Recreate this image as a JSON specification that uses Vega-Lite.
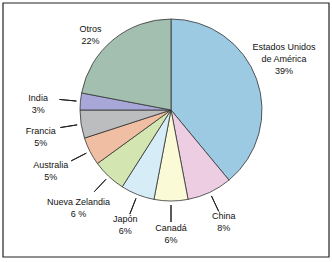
{
  "$schema": "https://vega.github.io/schema/vega-lite/v6.json",
  "width": 326,
  "height": 254,
  "padding": {"left": 3, "top": 3, "right": 3, "bottom": 5},
  "autosize": {"type": "none"},
  "background": "#ffffff",
  "datasets": {
    "paises": [
      {"n": 1, "pais": "Estados Unidos de América", "pct": 39, "etiqueta": "Estados Unidos\nde América\n39%"},
      {"n": 2, "pais": "China", "pct": 8, "etiqueta": "China\n8%"},
      {"n": 3, "pais": "Canadá", "pct": 6, "etiqueta": "Canadá\n6%"},
      {"n": 4, "pais": "Japón", "pct": 6, "etiqueta": "Japón\n6%"},
      {"n": 5, "pais": "Nueva Zelandia", "pct": 6, "etiqueta": "Nueva Zelandia\n6 %"},
      {"n": 6, "pais": "Australia", "pct": 5, "etiqueta": "Australia\n5%"},
      {"n": 7, "pais": "Francia", "pct": 5, "etiqueta": "Francia\n5%"},
      {"n": 8, "pais": "India", "pct": 3, "etiqueta": "India\n3%"},
      {"n": 9, "pais": "Otros", "pct": 22, "etiqueta": "Otros\n22%"}
    ],
    "marco": [{"m": 1}]
  },
  "layer": [
    {
      "data": {"name": "marco"},
      "mark": {"type": "rect", "fill": null, "stroke": "#222222", "strokeWidth": 1.2},
      "encoding": {}
    },
    {
      "data": {"name": "paises"},
      "mark": {"type": "arc", "outerRadius": 91, "x": 168, "y": 107, "stroke": "#333333", "strokeWidth": 0.8},
      "encoding": {
        "theta": {"field": "pct", "type": "quantitative", "stack": true},
        "order": {"field": "n", "type": "quantitative"},
        "color": {
          "field": "pais",
          "type": "nominal",
          "legend": null,
          "scale": {
            "domain": ["Estados Unidos de América", "China", "Canadá", "Japón", "Nueva Zelandia", "Australia", "Francia", "India", "Otros"],
            "range": ["#9ccae2", "#edcde2", "#fafad6", "#d6ecf6", "#d3e6b1", "#f0bfa3", "#bcbdbf", "#a8a8d8", "#a3bfb0"]
          }
        }
      }
    },
    {
      "data": {"name": "paises"},
      "mark": {"type": "arc", "radius": 112, "radius2": 95, "padAngle": 3, "x": 168, "y": 107, "fill": null, "stroke": "#222222", "strokeWidth": 1},
      "encoding": {
        "theta": {"field": "pct", "type": "quantitative", "stack": true},
        "order": {"field": "n", "type": "quantitative"},
        "strokeOpacity": {
          "condition": {"test": "datum.pais === 'Otros' || datum.pais === 'Estados Unidos de América'", "value": 0},
          "value": 1
        }
      }
    },
    {
      "data": {"name": "paises"},
      "mark": {"type": "text", "radius": 124, "thetaOffset": -0.08, "x": 168, "y": 107, "dy": -12, "font": "Liberation Sans", "fontSize": 9, "lineBreak": "\n", "lineHeight": 12, "align": "center", "baseline": "middle", "fill": "#111111"},
      "encoding": {
        "theta": {"field": "pct", "type": "quantitative", "stack": true},
        "order": {"field": "n", "type": "quantitative"},
        "text": {"field": "etiqueta", "type": "nominal"},
        "opacity": {"condition": {"test": "datum.pais === 'Estados Unidos de América'", "value": 1}, "value": 0}
      }
    },
    {
      "data": {"name": "paises"},
      "mark": {"type": "text", "radius": 124, "thetaOffset": 0, "x": 168, "y": 107, "dy": -6, "font": "Liberation Sans", "fontSize": 9, "lineBreak": "\n", "lineHeight": 12, "align": "center", "baseline": "middle", "fill": "#111111"},
      "encoding": {
        "theta": {"field": "pct", "type": "quantitative", "stack": true},
        "order": {"field": "n", "type": "quantitative"},
        "text": {"field": "etiqueta", "type": "nominal"},
        "opacity": {"condition": {"test": "datum.pais === 'China' || datum.pais === 'Canadá' || datum.pais === 'Japón'", "value": 1}, "value": 0}
      }
    },
    {
      "data": {"name": "paises"},
      "mark": {"type": "text", "radius": 135, "thetaOffset": 0, "x": 168, "y": 107, "dy": -6, "font": "Liberation Sans", "fontSize": 9, "lineBreak": "\n", "lineHeight": 12, "align": "center", "baseline": "middle", "fill": "#111111"},
      "encoding": {
        "theta": {"field": "pct", "type": "quantitative", "stack": true},
        "order": {"field": "n", "type": "quantitative"},
        "text": {"field": "etiqueta", "type": "nominal"},
        "opacity": {"condition": {"test": "datum.pais === 'Nueva Zelandia' || datum.pais === 'Australia'", "value": 1}, "value": 0}
      }
    },
    {
      "data": {"name": "paises"},
      "mark": {"type": "text", "radius": 133, "thetaOffset": -0.05, "x": 168, "y": 107, "dy": -6, "font": "Liberation Sans", "fontSize": 9, "lineBreak": "\n", "lineHeight": 12, "align": "center", "baseline": "middle", "fill": "#111111"},
      "encoding": {
        "theta": {"field": "pct", "type": "quantitative", "stack": true},
        "order": {"field": "n", "type": "quantitative"},
        "text": {"field": "etiqueta", "type": "nominal"},
        "opacity": {"condition": {"test": "datum.pais === 'Francia' || datum.pais === 'India'", "value": 1}, "value": 0}
      }
    },
    {
      "data": {"name": "paises"},
      "mark": {"type": "text", "radius": 110, "thetaOffset": -0.13, "x": 168, "y": 107, "dy": -6, "font": "Liberation Sans", "fontSize": 9, "lineBreak": "\n", "lineHeight": 12, "align": "center", "baseline": "middle", "fill": "#111111"},
      "encoding": {
        "theta": {"field": "pct", "type": "quantitative", "stack": true},
        "order": {"field": "n", "type": "quantitative"},
        "text": {"field": "etiqueta", "type": "nominal"},
        "opacity": {"condition": {"test": "datum.pais === 'Otros'", "value": 1}, "value": 0}
      }
    }
  ]
}
